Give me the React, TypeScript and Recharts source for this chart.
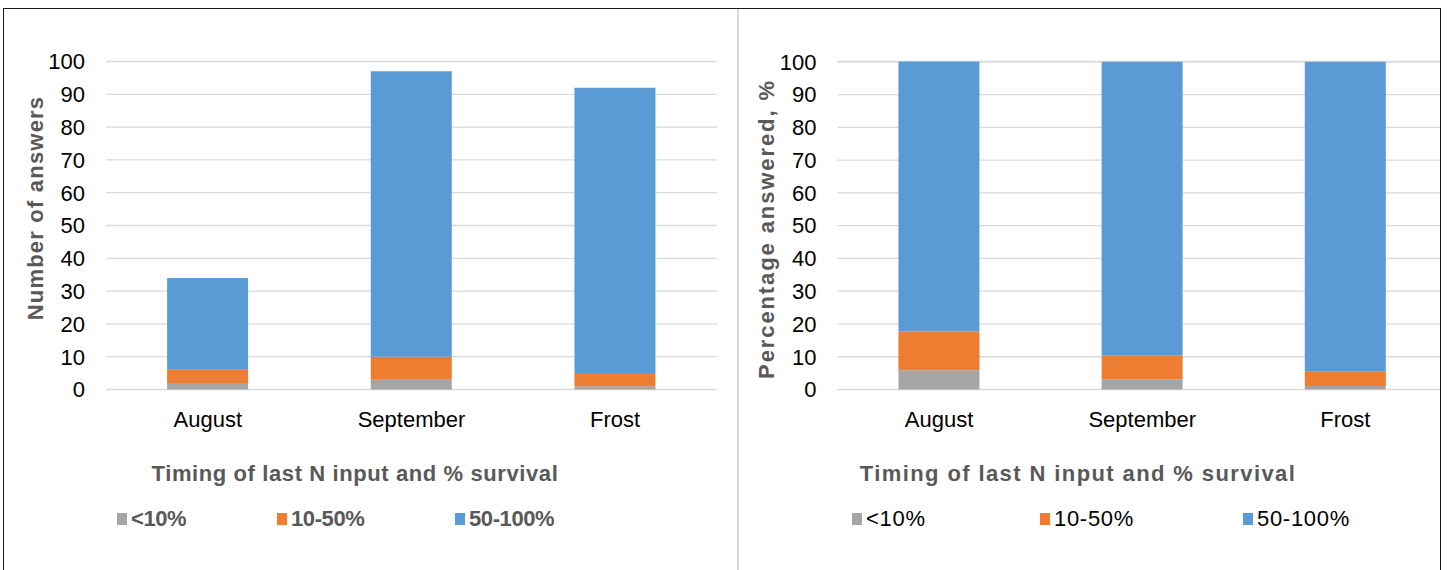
import { BarChart, Bar, XAxis, YAxis, CartesianGrid } from 'recharts';

const categories = ['August', 'September', 'Frost'];
const seriesNames = ['<10%', '10-50%', '50-100%'];
const seriesColors = ['#A5A5A5', '#ED7D31', '#5B9BD5'];

// left panel: number of answers
const countLow = [2, 3, 1];
const countMid = [4, 7, 4];
const countHigh = [28, 87, 87];

// right panel: percentage answered
const pctLow = [5.9, 3.1, 1.1];
const pctMid = [11.8, 7.2, 4.3];
const pctHigh = [82.4, 89.7, 94.6];

const yTicks = [0, 10, 20, 30, 40, 50, 60, 70, 80, 90, 100];

const xTitle = 'Timing of last N input and % survival';
const FONT = '"Liberation Sans", Arial, sans-serif';

function buildRows(low: number[], mid: number[], high: number[]) {
  return categories.map((name, i) => ({ name, s0: low[i], s1: mid[i], s2: high[i] }));
}

interface PanelProps {
  data: { name: string; s0: number; s1: number; s2: number }[];
  width: number;
  yWidth: number;
  rightMargin: number;
  yTitle: string;
  yTitleX: number;
  yTitleY: number;
  yTitleSpacing: number;
  xTitleX: number;
  xTitleSpacing: number;
}

function Panel(props: PanelProps) {
  const { data, width, yWidth, rightMargin, yTitle, yTitleX, yTitleY, yTitleSpacing, xTitleX, xTitleSpacing } = props;
  return (
    <BarChart
      width={width}
      height={570}
      data={data}
      margin={{ top: 61.5, right: rightMargin, left: 0, bottom: 120.5 }}
      barCategoryGap="30%"
    >
      <CartesianGrid vertical={false} stroke="#d9d9d9" strokeWidth={1.3} />
      <XAxis
        dataKey="name"
        height={60}
        axisLine={false}
        tickLine={false}
        tickSize={0}
        tickMargin={22}
        tick={{ fontSize: 22, fill: '#000', fontFamily: FONT }}
        label={{
          content: () => (
            <text
              x={xTitleX}
              y={481}
              textAnchor="middle"
              fontSize={22}
              fontWeight="bold"
              fill="#595959"
              letterSpacing={xTitleSpacing}
              fontFamily={FONT}
            >
              {xTitle}
            </text>
          ),
        }}
      />
      <YAxis
        width={yWidth}
        domain={[0, 100]}
        ticks={yTicks}
        interval={0}
        axisLine={false}
        tickLine={false}
        tickSize={0}
        tickMargin={21}
        tick={{ fontSize: 22, fill: '#000', fontFamily: FONT }}
        label={{
          content: () => (
            <text
              x={yTitleX}
              y={yTitleY}
              textAnchor="middle"
              dominantBaseline="central"
              fontSize={22}
              fontWeight="bold"
              fill="#595959"
              letterSpacing={yTitleSpacing}
              fontFamily={FONT}
              transform={`rotate(-90 ${yTitleX} ${yTitleY})`}
            >
              {yTitle}
            </text>
          ),
        }}
      />
      {['s0', 's1', 's2'].map((key, i) => (
        <Bar
          key={key}
          dataKey={key}
          name={seriesNames[i]}
          stackId="a"
          fill={seriesColors[i]}
          isAnimationActive={false}
        />
      ))}
    </BarChart>
  );
}

function LegendRow({ xs, bold }: { xs: number[]; bold: boolean }) {
  return (
    <>
      {seriesNames.map((name, i) => (
        <div key={name} style={{ position: 'absolute', left: xs[i], top: 508 }}>
          <div
            style={{
              position: 'absolute',
              left: 0,
              top: 5,
              width: 10,
              height: 12,
              background: seriesColors[i],
            }}
          />
          <div
            style={{
              position: 'absolute',
              left: 14,
              top: 0,
              whiteSpace: 'nowrap',
              fontFamily: FONT,
              fontSize: 22,
              lineHeight: '22px',
              letterSpacing: bold ? -0.4 : 0.7,
              fontWeight: bold ? 'bold' : 'normal',
              color: bold ? '#595959' : '#000',
            }}
          >
            {name}
          </div>
        </div>
      ))}
    </>
  );
}

export default function App() {
  const leftData = buildRows(countLow, countMid, countHigh);
  const rightData = buildRows(pctLow, pctMid, pctHigh);

  return (
    <div style={{ position: 'absolute', left: 0, top: 0, width: 1448, height: 570, overflow: 'hidden', background: '#fff' }}>
      <div style={{ position: 'absolute', left: 0, top: 0 }}>
        <Panel
          data={leftData}
          width={738}
          yWidth={106}
          rightMargin={21}
          yTitle="Number of answers"
          yTitleX={35}
          yTitleY={208}
          yTitleSpacing={1.2}
          xTitleX={355}
          xTitleSpacing={0.6}
        />
      </div>
      <div style={{ position: 'absolute', left: 738, top: 0, width: 703, height: 570, overflow: 'hidden' }}>
        <Panel
          data={rightData}
          width={710}
          yWidth={99.5}
          rightMargin={1}
          yTitle="Percentage answered, %"
          yTitleX={28}
          yTitleY={229}
          yTitleSpacing={1.9}
          xTitleX={340}
          xTitleSpacing={1.4}
        />
      </div>
      <LegendRow xs={[117, 277, 455]} bold={true} />
      <LegendRow xs={[852, 1040, 1243]} bold={false} />
      <div style={{ position: 'absolute', left: 737, top: 9, width: 2, height: 561, background: '#d9d9d9' }} />
      <div
        style={{
          position: 'absolute',
          left: 3,
          top: 8,
          width: 1436,
          height: 580,
          border: '1.5px solid #1a1a1a',
          pointerEvents: 'none',
        }}
      />
    </div>
  );
}
